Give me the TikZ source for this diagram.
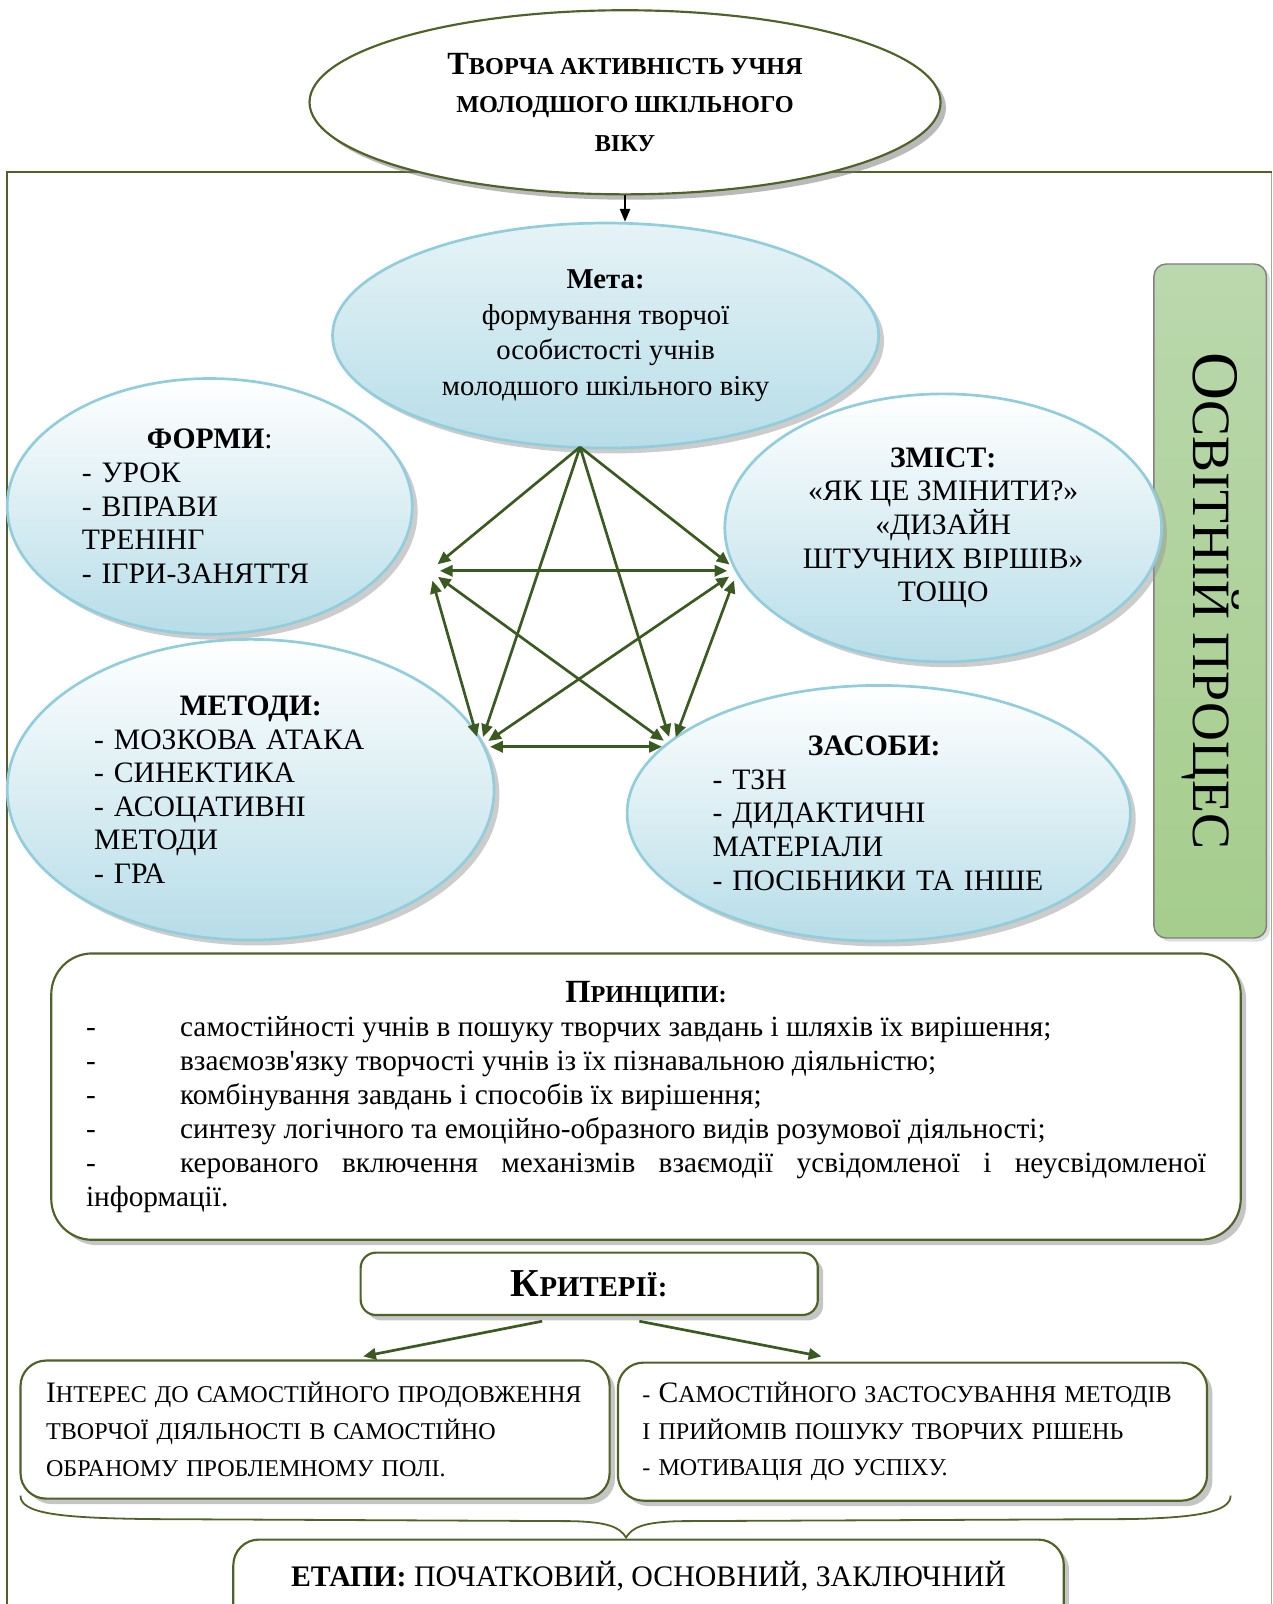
\documentclass[tikz,border=0pt]{standalone}
\usepackage{fontspec}
\setmainfont{Liberation Serif}[Ligatures=TeXOff]
\usetikzlibrary{shapes.geometric,arrows.meta,shadows,calc,positioning}

\definecolor{olivegreen}{HTML}{4F6228}
\definecolor{arrowgreen}{HTML}{3B5A22}
\definecolor{paleframe}{HTML}{9DB08C}
\definecolor{blueline}{HTML}{92CDDC}
\definecolor{bluefill}{HTML}{B7DDE8}
\definecolor{greentop}{HTML}{BAD8AD}
\definecolor{greenfill}{HTML}{A5CD8C}

% bigger first letter for the small caps titles
\newcommand{\scfirst}[2]{{\fontsize{#1}{#1}\selectfont #2}}

\tikzset{
  frameline/.style={draw=olivegreen, line width=1pt},
  topoval/.style={ellipse, draw=olivegreen, line width=1.2pt, fill=white, inner sep=0pt, align=center,
    drop shadow={shadow xshift=3pt, shadow yshift=-3pt, fill=black!55}},
  bluenode/.style={ellipse, draw=blueline, line width=1.5pt, top color=white, bottom color=bluefill, inner sep=0pt,
    font={\fontsize{16.5}{18.7}\selectfont},
    drop shadow={shadow xshift=3pt, shadow yshift=-3pt, fill=black!40}},
  greenbox/.style={draw=olivegreen, line width=1.2pt, fill=white,
    drop shadow={shadow xshift=3pt, shadow yshift=-3pt, fill=black!45}},
  linkarrow/.style={draw=arrowgreen, line width=1.5pt, -{Triangle[length=0.25cm,width=0.22cm]}, shorten >=0.2cm},
  twoway/.style={linkarrow, {Triangle[length=0.25cm,width=0.22cm]}-{Triangle[length=0.25cm,width=0.22cm]}, shorten <=0.2cm}
}

\begin{document}
\begin{tikzpicture}[x=0.02cm, y=-0.02cm]
  \useasboundingbox (0,0) rectangle (1244,1568);
  % Draw frame
  \draw[paleframe, line width=0.8pt] (1243,168) -- (1243,1568);
  \draw[frameline] (7,1568) -- (7,168) -- (1243,168);

  % Top oval
  \node[topoval, minimum width=12.34cm, minimum height=3.6cm, font={\fontsize{13.5}{21.5}\selectfont\bfseries}] (topic) at (611,100)
    {\scfirst{18}{Т}ВОРЧА АКТИВНІСТЬ УЧНЯ\\ МОЛОДШОГО ШКІЛЬНОГО\\ ВІКУ};

  % Green side bar
  \node[draw=black!50, line width=0.8pt, rounded corners=0.24cm, rotate=-90, top color=greentop, bottom color=greenfill,
    minimum width=13.18cm, minimum height=2.2cm, font={\fontsize{30}{30}\selectfont},
    drop shadow={shadow xshift=2pt, shadow yshift=-2pt, fill=black!25}] (process) at (1183,587.5)
    {\scfirst{37}{О}СВІТНІЙ ПРОЦЕС};

  % Blue ovals
  \node[bluenode, top color=bluefill!35, align=center, minimum width=10.68cm, minimum height=4.4cm,
    font={\fontsize{16}{19.8}\selectfont}] (goal) at (592,328)
    {\textbf{Мета:}\\ формування творчої\\ особистості учнів\\ молодшого шкільного віку};
  \node[bluenode, align=left, text width=5cm, minimum width=7.92cm, minimum height=5cm] (forms) at (205,495)
    {\makebox[\linewidth]{\textbf{ФОРМИ}:}\\ - УРОК\\ - ВПРАВИ\\ ТРЕНІНГ\\ - ІГРИ-ЗАНЯТТЯ};
  \node[bluenode, align=center, minimum width=8.54cm, minimum height=5.24cm] (content) at (922,516)
    {\textbf{ЗМІСТ:}\\ «ЯК ЦЕ ЗМІНИТИ?»\\ «ДИЗАЙН\\ ШТУЧНИХ ВІРШІВ»\\ ТОЩО};
  \node[bluenode, align=left, text width=6.12cm, minimum width=9.52cm, minimum height=5.88cm] (methods) at (245,772)
    {\makebox[\linewidth]{\textbf{МЕТОДИ:}}\\ - МОЗКОВА АТАКА\\ - СИНЕКТИКА\\ - АСОЦАТИВНІ\\ МЕТОДИ\\ - ГРА};
  \node[bluenode, align=left, text width=6.5cm, minimum width=9.84cm, minimum height=5cm] (means) at (859,795)
    {\makebox[\linewidth]{\hspace*{-0.18cm}\textbf{ЗАСОБИ:}}\\ - ТЗН\\ - ДИДАКТИЧНІ\\ МАТЕРІАЛИ\\ - ПОСІБНИКИ ТА ІНШЕ};

  \draw[-{Triangle[length=0.25cm,width=0.2cm]}, line width=1pt] (topic.south) -- (topic.south |- goal.north);

  % Pentagon of links
  \coordinate (pA) at (567,437);
  \coordinate (pL) at (420,558);
  \coordinate (pR) at (721,558);
  \coordinate (pBL) at (469,730);
  \coordinate (pBR) at (657,730);
  \draw[linkarrow] (pA) -- (pL);
  \draw[linkarrow] (pA) -- (pR);
  \draw[linkarrow] (pA) -- (pBL);
  \draw[linkarrow] (pA) -- (pBR);
  \draw[twoway] (pL) -- (pR);
  \draw[twoway] (pL) -- (pBL);
  \draw[twoway] (pL) -- (pBR);
  \draw[twoway] (pR) -- (pBL);
  \draw[twoway] (pR) -- (pBR);
  \draw[twoway] (pBL) -- (pBR);

  % Principles
  \node[greenbox, rounded corners=0.8cm, minimum width=23.26cm, minimum height=5.6cm, text width=21.9cm, align=justify, inner sep=0pt,
    font={\fontsize{16.3}{18.9}\selectfont}] (rules) at (631.5,1072)
    {\makebox[\linewidth]{\textbf{\scfirst{18}{П}\fontsize{13.5}{18.9}\selectfont РИНЦИПИ:}}\\
     \makebox[1.84cm][l]{-}самостійності учнів в пошуку творчих завдань і шляхів їх вирішення;\\
     \makebox[1.84cm][l]{-}взаємозв'язку творчості учнів із їх пізнавальною діяльністю;\\
     \makebox[1.84cm][l]{-}комбінування завдань і способів їх вирішення;\\
     \makebox[1.84cm][l]{-}синтезу логічного та емоційно-образного видів розумової діяльності;\\
     \makebox[1.84cm][l]{-}керованого включення механізмів взаємодії усвідомленої і неусвідомленої\linebreak інформації.};

  % Criteria
  \node[greenbox, rounded corners=0.3cm, minimum width=8.94cm, minimum height=1.22cm, font={\fontsize{16}{18}\selectfont\bfseries}] (criteria) at (576,1255)
    {\scfirst{22}{К}РИТЕРІЇ:};
  \node[greenbox, rounded corners=0.5cm, minimum width=11.52cm, minimum height=2.7cm, text width=10.52cm, align=left, inner xsep=0.5cm,
    font={\fontsize{13.4}{20.4}\selectfont}] (interest) at (308,1397.5)
    {\scfirst{16.5}{І}НТЕРЕС ДО САМОСТІЙНОГО ПРОДОВЖЕННЯ\\ ТВОРЧОЇ ДІЯЛЬНОСТІ В САМОСТІЙНО\\ ОБРАНОМУ ПРОБЛЕМНОМУ ПОЛІ.};
  \node[greenbox, rounded corners=0.5cm, minimum width=11.52cm, minimum height=2.7cm, text width=10.56cm, align=left, inner xsep=0.48cm,
    font={\fontsize{13.4}{20.4}\selectfont}] (skills) at (892,1399.5)
    {- \scfirst{16.5}{С}АМОСТІЙНОГО ЗАСТОСУВАННЯ МЕТОДІВ\\ І ПРИЙОМІВ ПОШУКУ ТВОРЧИХ РІШЕНЬ\\ - МОТИВАЦІЯ ДО УСПІХУ.};
  \draw[linkarrow, shorten >=0pt] ($(criteria.south)+(-46,5)$) -- ($(interest.north)+(47,-3)$);
  \draw[linkarrow, shorten >=0pt] ($(criteria.south)+(49,5)$) -- ($(skills.north)+(-89,-5)$);

  % Stages
  \node[greenbox, rounded corners=0.5cm, minimum width=16.24cm, text height=0.92cm, text depth=1.48cm, inner ysep=0pt, anchor=base,
    font={\fontsize{16.6}{18}\selectfont}] (stages) at (634,1551)
    {\textbf{ЕТАПИ:} ПОЧАТКОВИЙ, ОСНОВНИЙ, ЗАКЛЮЧНИЙ};

  % Brace over the stages
  \coordinate (braceL) at (20,1462);
  \coordinate (braceR) at (1203,1462);
  \coordinate (braceTip) at (612,1503);
  \draw[olivegreen, line width=1pt] (braceL) .. controls (20,1480) and (60,1484) .. (150,1485) -- (560,1487)
    .. controls (595,1488) and (606,1493) .. (braceTip) .. controls (618,1493) and (629,1488) .. (664,1487)
    -- (1100,1485) .. controls (1170,1484) and (1203,1478) .. (braceR);
\end{tikzpicture}
\end{document}
